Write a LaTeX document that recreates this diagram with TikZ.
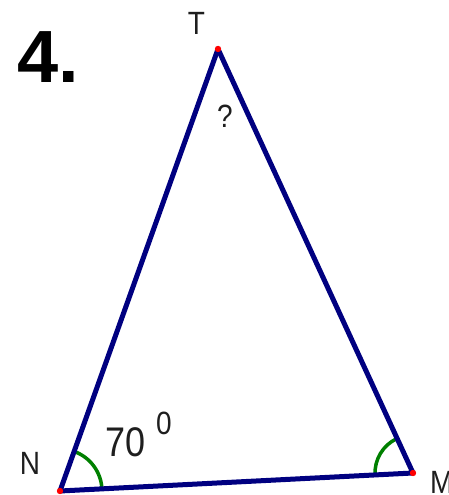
\documentclass[tikz,border=0pt]{standalone}
\usepackage{fontspec}
\setmainfont{Liberation Sans}
\definecolor{navyline}{RGB}{0,0,128}
\definecolor{angreen}{RGB}{0,128,0}
\definecolor{labelgray}{RGB}{30,30,30}
\begin{document}
\begin{tikzpicture}[x=1pt,y=1pt,
  side/.style={draw=navyline,line width=5pt,line cap=round},
  angarc/.style={draw=angreen,line width=3.5pt},
  vdot/.style={fill=red},
  lbl/.style={inner sep=0pt,text=labelgray,font=\fontsize{28}{30}\selectfont,yscale=1.15},
  title/.style={inner sep=0pt,font=\fontsize{74}{80}\selectfont\bfseries}]
\useasboundingbox (0,0) rectangle (449,495);
\clip (0,0) rectangle (449,495);
\coordinate (T) at (218,446);
\coordinate (N) at (60,4);
\coordinate (M) at (413,22);
% angle marks
\draw[angarc] (N) ++(3:42) arc (3:70:42);
\draw[angarc] (M) ++(115:38) arc (115:183:38);
% sides
\draw[side] (T) -- (N);
\draw[side] (N) -- (M);
\draw[side] (M) -- (T);
% vertex dots
\fill[vdot] (T) circle (3.2);
\fill[vdot] (N) circle (3.2);
\fill[vdot] (M) circle (3.2);
% labels
\node[title,anchor=base west] (num) at (17,412) {4.};
\node[lbl,anchor=base] (lT) at (196.5,460) {T};
\node[lbl,anchor=base] (lq) at (225,367) {?};
\node[lbl,anchor=base] (lN) at (30,20) {N};
\node[lbl,anchor=base west] (lM) at (430,2) {M};
\node[lbl,anchor=base west,font=\fontsize{36}{38}\selectfont] (lang) at (105,38) {70};
\node[lbl,anchor=base west,font=\fontsize{28}{30}\selectfont] (ldeg) at (156,60) {0};
\end{tikzpicture}
\end{document}
